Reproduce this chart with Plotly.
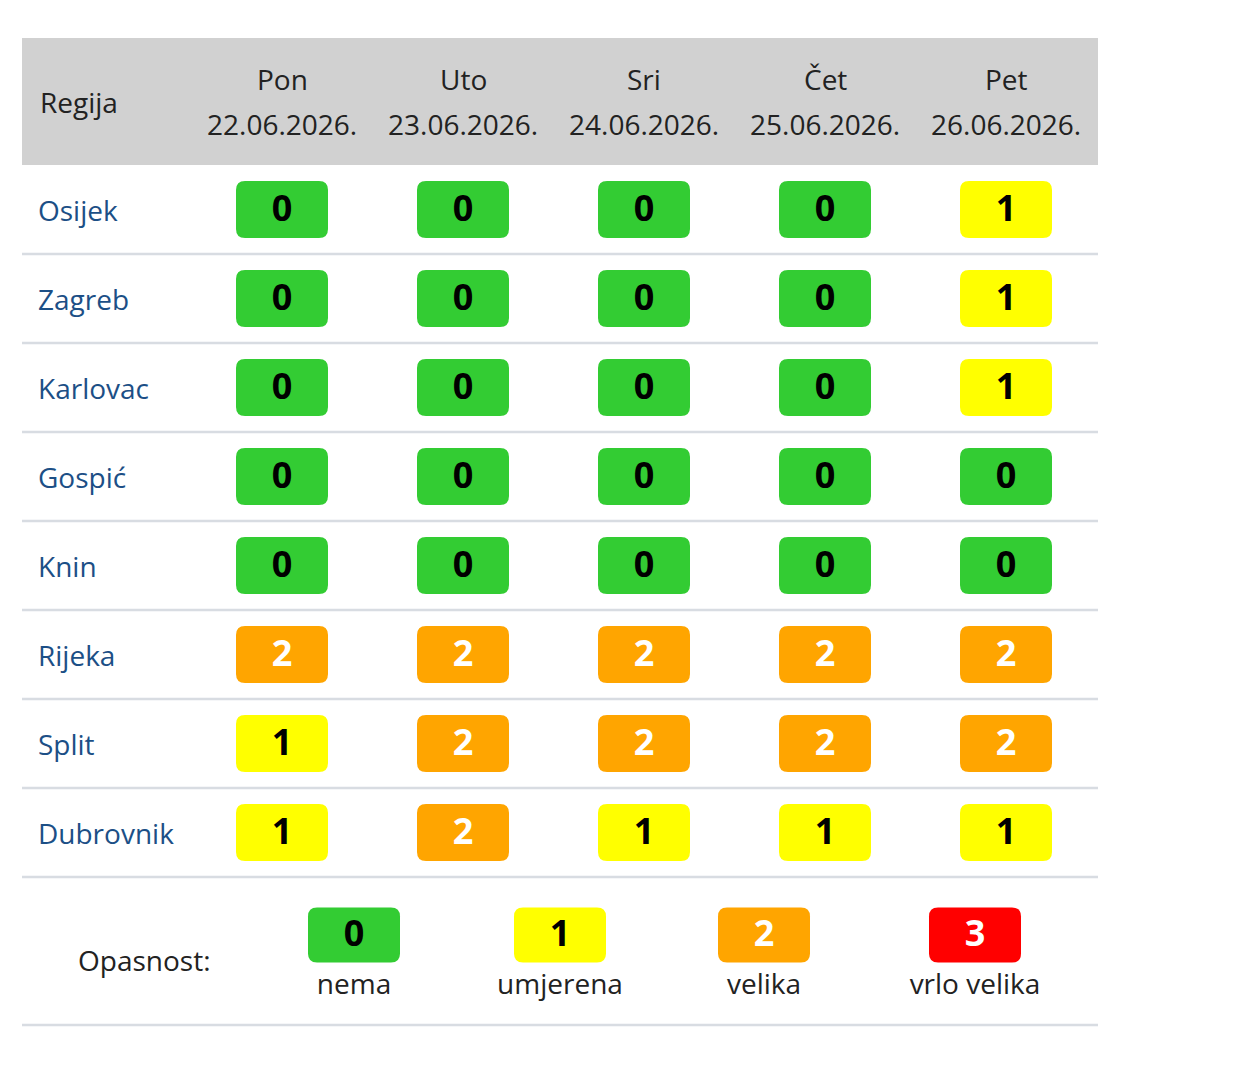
import plotly.graph_objects as go

# ---- data ----
regions = ["Osijek", "Zagreb", "Karlovac", "Gospić", "Knin", "Rijeka", "Split", "Dubrovnik"]
days = ["Pon", "Uto", "Sri", "Čet", "Pet"]
dates = ["22.06.2026.", "23.06.2026.", "24.06.2026.", "25.06.2026.", "26.06.2026."]
danger = [
    [0, 0, 0, 0, 1],
    [0, 0, 0, 0, 1],
    [0, 0, 0, 0, 1],
    [0, 0, 0, 0, 0],
    [0, 0, 0, 0, 0],
    [2, 2, 2, 2, 2],
    [1, 2, 2, 2, 2],
    [1, 2, 1, 1, 1],
]
levels = [0, 1, 2, 3]
level_names = ["nema", "umjerena", "velika", "vrlo velika"]
level_colors = ["#33cc33", "#ffff00", "#ffa500", "#ff0000"]
level_text = ["black", "black", "white", "white"]

# ---- layout constants (page pixels) ----
W, H = 1234, 1080
PAGE_OFF = 8  # body margin of the html page
LEFT, RIGHT = 22, 1098
HEAD_TOP, HEAD_BOT = 38, 165
ROW_H = 89
COL_X0, COL_DX = 282, 181
BW, BH, RAD = 92, 57, 9
LEG_X = [354, 560, 764, 975]
LEG_Y = 935
FONT = "Open Sans"
TXT = 28
LINE_COL = "#d8dce2"


def rounded(cx, cy, w, h, r, color):
    x0, x1, y0, y1 = cx - w / 2, cx + w / 2, cy - h / 2, cy + h / 2
    path = (f"M {x0 + r},{y0} L {x1 - r},{y0} Q {x1},{y0} {x1},{y0 + r} "
            f"L {x1},{y1 - r} Q {x1},{y1} {x1 - r},{y1} L {x0 + r},{y1} "
            f"Q {x0},{y1} {x0},{y1 - r} L {x0},{y0 + r} Q {x0},{y0} {x0 + r},{y0} Z")
    return dict(type="path", path=path, fillcolor=color, line=dict(width=0), layer="below")


shapes = []
# header background
shapes.append(dict(type="rect", x0=LEFT, x1=RIGHT, y0=HEAD_TOP, y1=HEAD_BOT,
                   fillcolor="#d1d1d1", line=dict(width=0), layer="below"))
# row separators
for j in range(len(regions)):
    yl = HEAD_BOT + ROW_H * (j + 1)
    shapes.append(dict(type="line", x0=LEFT, x1=RIGHT, y0=yl, y1=yl,
                       line=dict(color=LINE_COL, width=2.5), layer="below"))
legend_bottom = HEAD_BOT + ROW_H * len(regions) + 148
shapes.append(dict(type="line", x0=LEFT, x1=RIGHT, y0=legend_bottom, y1=legend_bottom,
                   line=dict(color=LINE_COL, width=2.5), layer="below"))

fig = go.Figure()

# badges in the table
for lv in levels:
    xs, ys = [], []
    for j, row in enumerate(danger):
        for i, v in enumerate(row):
            if v == lv:
                cx = COL_X0 + COL_DX * i
                cy = HEAD_BOT + ROW_H * j + ROW_H / 2
                shapes.append(rounded(cx, cy, BW, BH, RAD, level_colors[lv]))
                xs.append(cx)
                ys.append(cy + 2)
    if xs:
        fig.add_trace(go.Scatter(
            x=xs, y=ys, mode="text", text=[f"<b>{lv}</b>"] * len(xs),
            textfont=dict(family=FONT, size=36, color=level_text[lv]),
            hoverinfo="skip", showlegend=False))

# legend badges
for k, lv in enumerate(levels):
    shapes.append(rounded(LEG_X[k], LEG_Y, BW, 55, RAD, level_colors[lv]))
fig.add_trace(go.Scatter(
    x=LEG_X, y=[LEG_Y + 2] * len(levels), mode="text",
    text=[f"<b>{lv}</b>" for lv in levels],
    textfont=dict(family=FONT, size=36, color=level_text),
    hoverinfo="skip", showlegend=False))
fig.add_trace(go.Scatter(
    x=LEG_X, y=[LEG_Y + 52] * len(levels), mode="text", text=level_names,
    textfont=dict(family=FONT, size=TXT, color="#222222"),
    hoverinfo="skip", showlegend=False))

annotations = []
annotations.append(dict(x=38, y=(HEAD_TOP + HEAD_BOT) / 2, text="Regija", xanchor="left",
                        showarrow=False, font=dict(family=FONT, size=TXT, color="#222222")))
for i, (d, dt) in enumerate(zip(days, dates)):
    cx = COL_X0 + COL_DX * i
    annotations.append(dict(x=cx, y=79, text=d, showarrow=False,
                            font=dict(family=FONT, size=TXT, color="#222222")))
    annotations.append(dict(x=cx, y=124, text=dt, showarrow=False,
                            font=dict(family=FONT, size=TXT, color="#222222")))
for j, r in enumerate(regions):
    annotations.append(dict(x=36, y=HEAD_BOT + ROW_H * j + ROW_H / 2, text=r, xanchor="left",
                            showarrow=False, font=dict(family=FONT, size=TXT, color="#1c4f86")))
annotations.append(dict(x=144, y=960, text="Opasnost:", showarrow=False,
                        font=dict(family=FONT, size=TXT, color="#222222")))

fig.update_layout(
    width=W, height=H,
    margin=dict(l=0, r=0, t=0, b=0),
    paper_bgcolor="white", plot_bgcolor="white",
    xaxis=dict(range=[PAGE_OFF, W + PAGE_OFF], visible=False, fixedrange=True),
    yaxis=dict(range=[H + PAGE_OFF, PAGE_OFF], visible=False, fixedrange=True),
    shapes=shapes, annotations=annotations,
)

fig.write_html("out.html", config={"displayModeBar": False})
